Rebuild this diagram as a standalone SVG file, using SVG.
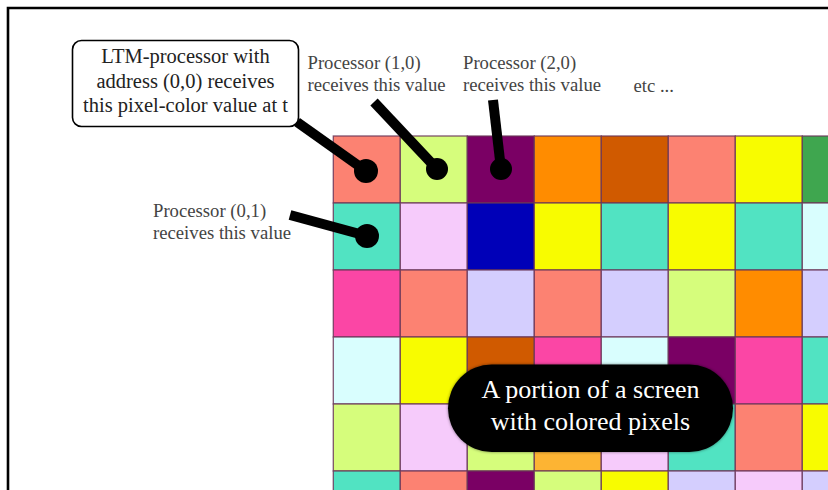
<svg xmlns="http://www.w3.org/2000/svg" width="828" height="490" viewBox="0 0 828 490">
<defs>
<style>
.c{stroke:#6a3658;stroke-width:1.3;stroke-opacity:0.85}
.sa{fill:#fc8272}.lg{fill:#d6fd7c}.pu{fill:#7a0064}.or{fill:#ff8c00}.bo{fill:#d05a00}
.ye{fill:#f8fc00}.gr{fill:#3fa64f}.tu{fill:#51e3c2}.lp{fill:#f6cbfb}.bl{fill:#0000b8}
.lc{fill:#d9fefe}.hp{fill:#fb46a5}.la{fill:#d4cefe}.oy{fill:#fdb433}
.lbl{font-family:"Liberation Serif","Times New Roman",serif;font-size:18.7px;fill:#444}
.box{font-family:"Liberation Serif","Times New Roman",serif;font-size:20.5px;fill:#222;text-anchor:middle}
.pill{font-family:"Liberation Serif","Times New Roman",serif;font-size:26px;fill:#fff;text-anchor:middle}
.ln{stroke:#000;stroke-width:10;fill:none}
</style>
<filter id="sh" x="-10%" y="-20%" width="120%" height="140%">
<feDropShadow dx="0" dy="0" stdDeviation="1.5" flood-color="#000" flood-opacity="0.5"/>
</filter>
</defs>
<rect width="828" height="490" fill="#fff"/>
<path d="M8,500 V8 H840" fill="none" stroke="#000" stroke-width="2.6"/>
<g id="grid">
<g transform="translate(333.3,136)">
<rect class="c sa" x="0" y="0" width="67" height="67"/>
<rect class="c lg" x="67" y="0" width="67" height="67"/>
<rect class="c pu" x="134" y="0" width="67" height="67"/>
<rect class="c or" x="201" y="0" width="67" height="67"/>
<rect class="c bo" x="268" y="0" width="67" height="67"/>
<rect class="c sa" x="335" y="0" width="67" height="67"/>
<rect class="c ye" x="402" y="0" width="67" height="67"/>
<rect class="c gr" x="469" y="0" width="67" height="67"/>

<rect class="c tu" x="0" y="67" width="67" height="67"/>
<rect class="c lp" x="67" y="67" width="67" height="67"/>
<rect class="c bl" x="134" y="67" width="67" height="67"/>
<rect class="c ye" x="201" y="67" width="67" height="67"/>
<rect class="c tu" x="268" y="67" width="67" height="67"/>
<rect class="c ye" x="335" y="67" width="67" height="67"/>
<rect class="c tu" x="402" y="67" width="67" height="67"/>
<rect class="c lc" x="469" y="67" width="67" height="67"/>

<rect class="c hp" x="0" y="134" width="67" height="67"/>
<rect class="c sa" x="67" y="134" width="67" height="67"/>
<rect class="c la" x="134" y="134" width="67" height="67"/>
<rect class="c sa" x="201" y="134" width="67" height="67"/>
<rect class="c la" x="268" y="134" width="67" height="67"/>
<rect class="c lg" x="335" y="134" width="67" height="67"/>
<rect class="c or" x="402" y="134" width="67" height="67"/>
<rect class="c la" x="469" y="134" width="67" height="67"/>

<rect class="c lc" x="0" y="201" width="67" height="67"/>
<rect class="c ye" x="67" y="201" width="67" height="67"/>
<rect class="c bo" x="134" y="201" width="67" height="67"/>
<rect class="c hp" x="201" y="201" width="67" height="67"/>
<rect class="c lc" x="268" y="201" width="67" height="67"/>
<rect class="c pu" x="335" y="201" width="67" height="67"/>
<rect class="c hp" x="402" y="201" width="67" height="67"/>
<rect class="c tu" x="469" y="201" width="67" height="67"/>

<rect class="c lg" x="0" y="268" width="67" height="67"/>
<rect class="c lp" x="67" y="268" width="67" height="67"/>
<rect class="c lg" x="134" y="268" width="67" height="67"/>
<rect class="c oy" x="201" y="268" width="67" height="67"/>
<rect class="c lp" x="268" y="268" width="67" height="67"/>
<rect class="c tu" x="335" y="268" width="67" height="67"/>
<rect class="c sa" x="402" y="268" width="67" height="67"/>
<rect class="c ye" x="469" y="268" width="67" height="67"/>

<rect class="c tu" x="0" y="335" width="67" height="67"/>
<rect class="c sa" x="67" y="335" width="67" height="67"/>
<rect class="c pu" x="134" y="335" width="67" height="67"/>
<rect class="c lg" x="201" y="335" width="67" height="67"/>
<rect class="c ye" x="268" y="335" width="67" height="67"/>
<rect class="c la" x="335" y="335" width="67" height="67"/>
<rect class="c lp" x="402" y="335" width="67" height="67"/>
<rect class="c la" x="469" y="335" width="67" height="67"/>
</g>
</g>
<g id="connectors">
<line class="ln" x1="297" y1="122" x2="366" y2="171"/>
<circle cx="366" cy="171" r="12"/>
<line class="ln" x1="374" y1="102" x2="437" y2="169"/>
<circle cx="437" cy="169" r="11"/>
<line class="ln" x1="493" y1="100" x2="501" y2="169"/>
<circle cx="501" cy="169" r="11"/>
<line class="ln" x1="290" y1="215" x2="367" y2="236"/>
<circle cx="367" cy="236" r="12"/>
</g>
<g id="ltm-box">
<rect x="72.5" y="40.5" width="226" height="86" rx="9" fill="#fff" stroke="#000" stroke-width="1.6"/>
<text class="box" x="185.5" y="63">LTM-processor with</text>
<text class="box" x="185.5" y="88">address (0,0) receives</text>
<text class="box" x="185.5" y="112">this pixel-color value at t</text>
</g>
<g id="proc-1-0">
<text class="lbl" x="307.5" y="69">Processor (1,0)</text>
<text class="lbl" x="307.5" y="91">receives this value</text>
</g>
<g id="proc-2-0">
<text class="lbl" x="463" y="69">Processor (2,0)</text>
<text class="lbl" x="463" y="91">receives this value</text>
</g>
<g id="etc">
<text class="lbl" x="633.5" y="92">etc ...</text>
</g>
<g id="proc-0-1">
<text class="lbl" x="153" y="217">Processor (0,1)</text>
<text class="lbl" x="153" y="239">receives this value</text>
</g>
<g id="pill">
<rect x="448" y="364.5" width="285" height="87.5" rx="43.7" fill="#000" filter="url(#sh)"/>
<text class="pill" x="590.5" y="398">A portion of a screen</text>
<text class="pill" x="590.5" y="430">with colored pixels</text>
</g>
</svg>
